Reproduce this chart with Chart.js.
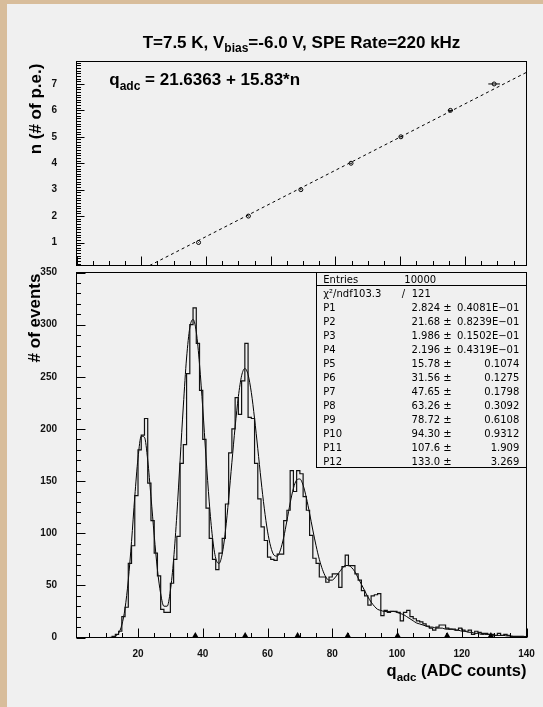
<!DOCTYPE html>
<html>
<head>
<meta charset="utf-8">
<script src="https://cdn.jsdelivr.net/npm/chart.js@4.4.1/dist/chart.umd.min.js"></script>
<style>
  html, body { margin: 0; padding: 0; }
  body { width: 543px; height: 707px; background: #d8bd9b; position: relative; overflow: hidden; }
  #sheet { position: absolute; left: 7px; top: 4px; right: 0; bottom: 0; background: #f0f0f0; }
  canvas { position: absolute; left: 0; top: 0; }
</style>
</head>
<body>
<div id="sheet"></div>
<canvas id="calib" width="543" height="707"></canvas>
<canvas id="spectrum" width="543" height="707"></canvas>
<script>
const tickLabelsQ = [20, 40, 60, 80, 100, 120, 140];
const tickLabelsEvents = [0, 50, 100, 150, 200, 250, 300, 350];
const tickLabelsN = [1, 2, 3, 4, 5, 6, 7];

// histogram, one bin per ADC count, first bin starts at q = 1
const counts = [
  0, 0, 0, 0, 0, 0, 0, 0, 0, 0,
  0, 1, 3, 6, 20, 29, 71, 88, 136, 180,
  194, 210, 148, 112, 81, 59, 27, 24, 24, 52,
  75, 97, 167, 185, 253, 300, 316, 282, 237, 190,
  124, 95, 75, 65, 81, 95, 128, 177, 200, 230,
  214, 246, 282, 211, 210, 167, 133, 106, 93, 77,
  75, 74, 80, 80, 112, 122, 160, 140, 160, 157,
  135, 122, 98, 76, 71, 58, 58, 53, 58, 61,
  61, 48, 68, 79, 69, 69, 61, 55, 45, 40,
  31, 40, 41, 42, 21, 26, 24, 25, 25, 24,
  16, 24, 26, 20, 18, 16, 15, 13, 11, 9,
  7, 10, 12, 12, 9, 8, 8, 7, 9, 7,
  6, 7, 3, 6, 5, 4, 4, 3, 3, 2,
  4, 2, 3, 2, 1, 1, 1, 1, 0
];
const firstEdge = 1;

// fitted multi-gaussian, read at q = 10, 11, ... 140
const fitStart = 10;
const fitEvents = [
  0, 0, 0.3, 1, 4, 12, 28, 55, 92, 135,
  172, 193, 192, 170, 135, 98, 65, 42, 30, 30,
  45, 75, 118, 170, 222, 268, 297, 305, 293, 262,
  220, 173, 130, 96, 76, 71, 80, 102, 133, 168,
  202, 231, 251, 258, 252, 235, 210, 181, 151, 124,
  102, 87, 79, 78, 84, 96, 112, 129, 143, 151,
  152, 146, 134, 119, 103, 88, 75, 65, 58, 55,
  55, 58, 62, 66, 69, 69, 67, 63, 57, 51,
  45, 39, 34, 30, 27, 26, 25, 25, 25, 25,
  24, 23, 22, 20, 18, 16, 14, 13, 12, 11,
  10, 10, 9, 9, 9, 8, 8, 8, 7, 7,
  6, 6, 5, 5, 4, 4, 3, 3, 3, 3,
  2, 2, 2, 2, 1.5, 1.5, 1, 1, 1, 1,
  1
];

// peak positions (top panel points and markers under the spectrum)
const peakQ = [37.7, 53.1, 69.3, 84.8, 100.2, 115.5, 129.0];
const peakN = [1, 2, 3, 4, 5, 6, 7];
const peakErrQ = [0.1, 0.15, 0.2, 0.3, 0.5, 0.8, 1.8];

// linear fit drawn as dashed line
const fitLineQ = [22.6, 139];
const fitLineN = [0.13, 7.44];

const statRows = [
  ['P1', '2.824', '0.4081E\u221201'],
  ['P2', '21.68', '0.8239E\u221201'],
  ['P3', '1.986', '0.1502E\u221201'],
  ['P4', '2.196', '0.4319E\u221201'],
  ['P5', '15.78', '0.1074'],
  ['P6', '31.56', '0.1275'],
  ['P7', '47.65', '0.1798'],
  ['P8', '63.26', '0.3092'],
  ['P9', '78.72', '0.6108'],
  ['P10', '94.30', '0.9312'],
  ['P11', '107.6', '1.909'],
  ['P12', '133.0', '3.269']
];

const SANS = '"Liberation Sans", Arial, sans-serif';
const BOX = { left: 76.5, right: 526.5 };

function richText(ctx, parts, x, y, align) {
  let w = 0;
  parts.forEach(p => {
    ctx.font = `bold ${p.size}px ${SANS}`;
    p.w = ctx.measureText(p.t).width;
    w += p.w;
  });
  let cx = align === 'center' ? x - w / 2 : align === 'right' ? x - w : x;
  ctx.textAlign = 'left';
  ctx.textBaseline = 'alphabetic';
  parts.forEach(p => {
    ctx.font = `bold ${p.size}px ${SANS}`;
    ctx.fillText(p.t, cx, y + (p.dy || 0));
    cx += p.w;
  });
}

function line(ctx, x1, y1, x2, y2) {
  ctx.beginPath();
  ctx.moveTo(x1, y1);
  ctx.lineTo(x2, y2);
  ctx.stroke();
}

function isMult(v, step) {
  return Math.abs(v / step - Math.round(v / step)) < 1e-6;
}

// ROOT style frame with inward ticks
const frameTicks = {
  id: 'frameTicks',
  afterDatasetsDraw(chart, args, o) {
    const { ctx, chartArea: a, scales: { x, y } } = chart;
    ctx.save();
    ctx.strokeStyle = '#000';
    ctx.lineWidth = 1;
    for (let i = Math.ceil(x.min / o.xMinor - 1e-6); i * o.xMinor <= x.max + 1e-6; i++) {
      const v = i * o.xMinor;
      const px = Math.round(x.getPixelForValue(v)) + 0.5;
      line(ctx, px, a.bottom, px, a.bottom - (isMult(v, o.xMajor) ? 9 : 4.5));
    }
    for (let i = Math.ceil(y.min / o.yMinor - 1e-6); i * o.yMinor <= y.max + 1e-6; i++) {
      const v = i * o.yMinor;
      const py = Math.round(y.getPixelForValue(v)) + 0.5;
      line(ctx, a.left, py, a.left + (isMult(v, o.yMajor) ? o.yMajorLen : 4.5), py);
    }
    ctx.strokeRect(a.left, a.top, a.right - a.left, a.bottom - a.top);
    ctx.restore();
  }
};

function axes(xmin, xmax, ymin, ymax, xLabels, yLabels, xHeight) {
  return {
    x: {
      type: 'linear', min: xmin, max: xmax,
      grid: { display: false }, border: { display: false },
      ticks: { display: xLabels.length > 0, color: '#111', padding: 3,
               font: { family: SANS, size: 10, weight: 'bold' } },
      afterBuildTicks: s => { s.ticks = xLabels.map(v => ({ value: v })); },
      afterFit: s => { s.height = xHeight; }
    },
    y: {
      type: 'linear', min: ymin, max: ymax,
      grid: { display: false }, border: { display: false },
      ticks: { color: '#111', padding: 11.5,
               font: { family: SANS, size: 10, weight: 'bold' } },
      afterBuildTicks: s => { s.ticks = yLabels.map(v => ({ value: v })); },
      afterFit: s => { s.width = BOX.left; }
    }
  };
}

// ---------- top panel: peak number vs position ----------
const calibText = {
  id: 'calibText',
  afterDraw(chart) {
    const { ctx, scales: { x, y } } = chart;
    ctx.save();
    ctx.fillStyle = '#000';
    ctx.strokeStyle = '#000';
    ctx.lineWidth = 1;
    // horizontal error bars
    peakQ.forEach((q, i) => {
      const py = y.getPixelForValue(peakN[i]);
      line(ctx, x.getPixelForValue(q - peakErrQ[i]), py, x.getPixelForValue(q + peakErrQ[i]), py);
    });
    richText(ctx, [
      { t: 'T=7.5 K, V', size: 17 },
      { t: 'bias', size: 12, dy: 4 },
      { t: '=-6.0 V, SPE Rate=220 kHz', size: 17 }
    ], (BOX.left + BOX.right) / 2, 48, 'center');
    richText(ctx, [
      { t: 'q', size: 17 },
      { t: 'adc', size: 12, dy: 5 },
      { t: ' = 21.6363 + 15.83*n', size: 17 }
    ], 109.3, 85, 'left');
    ctx.translate(41, 109);
    ctx.rotate(-Math.PI / 2);
    richText(ctx, [{ t: 'n (# of p.e.)', size: 17 }], 0, 0, 'center');
    ctx.restore();
  }
};

new Chart(document.getElementById('calib'), {
  type: 'scatter',
  data: {
    datasets: [
      {
        data: fitLineQ.map((q, i) => ({ x: q, y: fitLineN[i] })),
        showLine: true, borderColor: '#000', borderWidth: 1, borderDash: [3, 3],
        pointRadius: 0
      },
      {
        data: peakQ.map((q, i) => ({ x: q, y: peakN[i] })),
        showLine: false, pointStyle: 'circle', pointRadius: 2,
        pointBorderColor: '#000', pointBackgroundColor: '#f0f0f0', pointBorderWidth: 1
      }
    ]
  },
  options: {
    responsive: false, animation: false, events: [],
    layout: { padding: { top: 61.5, right: 543 - BOX.right, left: 0, bottom: 0 } },
    scales: axes(0, 139, 0.13, 7.85, [], tickLabelsN, 707 - 265.5),
    plugins: {
      legend: { display: false }, tooltip: { enabled: false },
      frameTicks: { xMinor: 5, xMajor: 20, yMinor: 0.1, yMajor: 1, yMajorLen: 8 }
    }
  },
  plugins: [frameTicks, calibText]
});

// ---------- bottom panel: charge spectrum ----------
const histPoints = [];
counts.forEach((v, i) => {
  const lo = firstEdge + i;
  histPoints.push({ x: lo, y: v }, { x: lo + 1, y: v });
});

const spectrumText = {
  id: 'spectrumText',
  afterDraw(chart) {
    const { ctx, chartArea: a, scales: { x, y } } = chart;
    ctx.save();
    ctx.fillStyle = '#000';
    // peak markers
    const base = y.getPixelForValue(0);
    peakQ.forEach(q => {
      const px = x.getPixelForValue(q);
      ctx.beginPath();
      ctx.moveTo(px - 3.2, base);
      ctx.lineTo(px + 3.2, base);
      ctx.lineTo(px, base - 5.5);
      ctx.closePath();
      ctx.fill();
    });
    // stats box
    const L = 316.5, T = a.top, R = BOX.right, B = 467.5;
    ctx.fillStyle = '#f0f0f0';
    ctx.fillRect(L, T, R - L, B - T);
    ctx.strokeStyle = '#000';
    ctx.lineWidth = 1;
    ctx.strokeRect(L, T, R - L, B - T);
    line(ctx, L, 285.5, R, 285.5);
    ctx.fillStyle = '#000';
    ctx.font = `10px "DejaVu Sans", sans-serif`;
    ctx.textBaseline = 'alphabetic';
    ctx.textAlign = 'left';
    ctx.fillText('Entries', 323.3, 282.5);
    ctx.fillText('10000', 404.3, 282.5);
    ctx.fillText('\u03c7\u00b2/ndf103.3', 323.3, 297);
    ctx.fillText('/', 401.7, 297);
    ctx.fillText('121', 411.7, 297);
    statRows.forEach((r, i) => {
      const by = 311 + i * 13.97;
      ctx.textAlign = 'left';
      ctx.fillText(r[0], 323.3, by);
      ctx.textAlign = 'right';
      ctx.fillText(r[1] + ' \u00b1', 451.7, by);
      ctx.fillText(r[2], 519.3, by);
    });
    // axis titles
    richText(ctx, [
      { t: 'q', size: 16.5 },
      { t: 'adc', size: 11.5, dy: 5 },
      { t: ' (ADC counts)', size: 16.5 }
    ], BOX.right, 676, 'right');
    ctx.translate(40, 318);
    ctx.rotate(-Math.PI / 2);
    richText(ctx, [{ t: '# of events', size: 17 }], 0, 0, 'center');
    ctx.restore();
  }
};

new Chart(document.getElementById('spectrum'), {
  type: 'scatter',
  data: {
    datasets: [
      {
        data: histPoints, showLine: true, borderColor: '#111', borderWidth: 1.2,
        pointRadius: 0
      },
      {
        data: fitEvents.map((v, i) => ({ x: fitStart + i, y: v })),
        showLine: true, borderColor: '#000', borderWidth: 1,
        cubicInterpolationMode: 'monotone', pointRadius: 0
      }
    ]
  },
  options: {
    responsive: false, animation: false, events: [],
    layout: { padding: { top: 272.5, right: 543 - BOX.right, left: 0, bottom: 0 } },
    scales: axes(1, 140, 0, 350, tickLabelsQ, tickLabelsEvents, 707 - 637.5),
    plugins: {
      legend: { display: false }, tooltip: { enabled: false },
      frameTicks: { xMinor: 5, xMajor: 20, yMinor: 10, yMajor: 50, yMajorLen: 9 }
    }
  },
  plugins: [frameTicks, spectrumText]
});
</script>
</body>
</html>
